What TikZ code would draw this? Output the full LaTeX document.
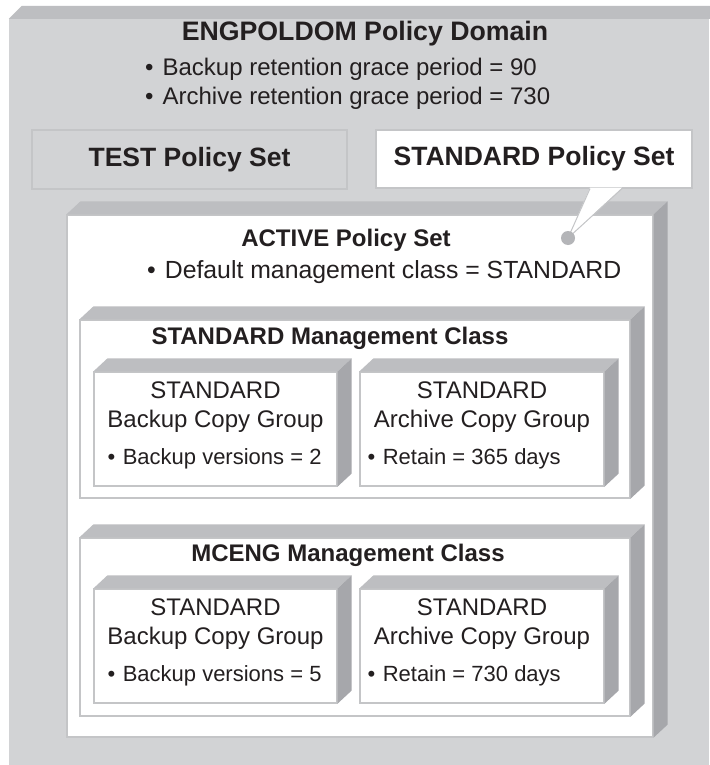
\documentclass[tikz,border=0pt]{standalone}
\usepackage{fontspec}
\setmainfont{Liberation Sans}
\usetikzlibrary{positioning,calc}
\definecolor{domgray}{RGB}{210,211,213}
\definecolor{topgray}{RGB}{189,190,193}
\definecolor{sidegray}{RGB}{166,167,171}
\definecolor{edgegray}{RGB}{196,197,199}
\definecolor{dotgray}{RGB}{180,181,184}
\definecolor{inkblack}{RGB}{35,31,32}
\tikzstyle{face} = [draw=edgegray, fill=white, line width=1.2pt, rectangle, inner sep=0pt]
\tikzstyle{flatbox} = [draw=edgegray, fill=domgray, line width=1.5pt, rectangle, inner sep=0pt]
\tikzstyle{bighead} = [font=\fontsize{26.7}{30}\selectfont\bfseries, text=inkblack, inner sep=0pt]
\tikzstyle{sethead} = [font=\fontsize{26.5}{30}\selectfont\bfseries, text=inkblack, inner sep=0pt]
\tikzstyle{head} = [font=\fontsize{24}{28}\selectfont\bfseries, text=inkblack, inner sep=0pt]
\tikzstyle{txt} = [font=\fontsize{24}{29}\selectfont, text=inkblack, inner sep=0pt, align=center]
\tikzstyle{item} = [font=\fontsize{24}{28}\selectfont, text=inkblack, inner sep=0pt, anchor=west]
\tikzstyle{smallitem} = [font=\fontsize{22}{26}\selectfont, text=inkblack, inner sep=0pt, anchor=west]
\newcommand{\bul}{\textbullet\hspace{9pt}}
\newcommand{\sbul}{\textbullet\hspace{7.5pt}}
% top and right faces of a box
\newcommand{\bevel}[1]{%
  \fill[topgray] (#1.north west) -- ++(14,-13) -- ($(#1.north east)+(14,-13)$) -- (#1.north east) -- cycle;
  \fill[sidegray] (#1.north east) -- ++(14,-13) -- ($(#1.south east)+(14,-13)$) -- (#1.south east) -- cycle;
}

\begin{document}
\begin{tikzpicture}[x=1pt, y=-1pt]
    \useasboundingbox (0,0) rectangle (709,765);
    \fill[white] (0,0) rectangle (709,765);

    % Domain
    \node [rectangle, fill=domgray, minimum width=700, minimum height=746, inner sep=0pt] (domain) at (359,392) {};
    \fill[topgray] (domain.north west) -- ++(13,-13) -- ++(700,0) |- (domain.north east) -- cycle;
    \node [bighead] (domtitle) at (365,34) {ENGPOLDOM Policy Domain};
    \node [item] (grace1) at (145,69) {\bul Backup retention grace period = 90};
    \node [item] (grace2) at (145,98) {\bul Archive retention grace period = 730};

    % Policy sets
    \node [flatbox, minimum width=315, minimum height=59] (testps) at (189.5,159.5) {};
    \node [sethead] (testtitle) at (testps) {TEST Policy Set};
    \node [face, minimum width=316, minimum height=58] (stdps) at (534,159) {};
    \node [sethead] (stdtitle) at (stdps) {STANDARD Policy Set};

    % Active policy set
    \node [face, minimum width=586, minimum height=522] (active) at (360,476) {};
    \bevel{active}
    \coordinate (tip) at (568,238);
    \fill[white] ($(stdps.south)+(56,-1)$) -- (tip) -- ($(stdps.south)+(88,-1)$) -- cycle;
    \draw[edgegray, line width=1pt] ($(stdps.south)+(56,0)$) -- (tip) -- ($(stdps.south)+(88,0)$);
    \fill[dotgray] (tip) circle (7);
    \node [head] (acttitle) at (346,240) {ACTIVE Policy Set};
    \node [item, font=\fontsize{24.8}{28}\selectfont] (defclass) at (147,272) {\bul Default management class = STANDARD};

    % STANDARD management class
    \node [face, minimum width=550, minimum height=178] (stdmc) at (355,409) {};
    \bevel{stdmc}
    \node [head] (stdmctitle) at (330,338) {STANDARD Management Class};
    \node [face, minimum width=243, minimum height=114] (bk1) at (215.5,429) {};
    \bevel{bk1}
    \node [txt] (bk1name) at ($(bk1.north)+(0,36)$) {STANDARD\\Backup Copy Group};
    \node [smallitem] (bk1ver) at ($(bk1.south west)+(14,-28)$) {\sbul Backup versions = 2};
    \node [face, minimum width=244, minimum height=114] (ar1) at (482,429) {};
    \bevel{ar1}
    \node [txt] (ar1name) at ($(ar1.north)+(0,36)$) {STANDARD\\Archive Copy Group};
    \node [smallitem] (ar1ret) at ($(ar1.south west)+(8,-28)$) {\sbul Retain = 365 days};

    % MCENG management class
    \node [face, minimum width=550, minimum height=178] (engmc) at (355,627) {};
    \bevel{engmc}
    \node [head] (engmctitle) at (348,555) {MCENG Management Class};
    \node [face, minimum width=243, minimum height=114] (bk2) at (215.5,646) {};
    \bevel{bk2}
    \node [txt] (bk2name) at ($(bk2.north)+(0,36)$) {STANDARD\\Backup Copy Group};
    \node [smallitem] (bk2ver) at ($(bk2.south west)+(14,-28)$) {\sbul Backup versions = 5};
    \node [face, minimum width=244, minimum height=114] (ar2) at (482,646) {};
    \bevel{ar2}
    \node [txt] (ar2name) at ($(ar2.north)+(0,36)$) {STANDARD\\Archive Copy Group};
    \node [smallitem] (ar2ret) at ($(ar2.south west)+(8,-28)$) {\sbul Retain = 730 days};
\end{tikzpicture}
\end{document}
